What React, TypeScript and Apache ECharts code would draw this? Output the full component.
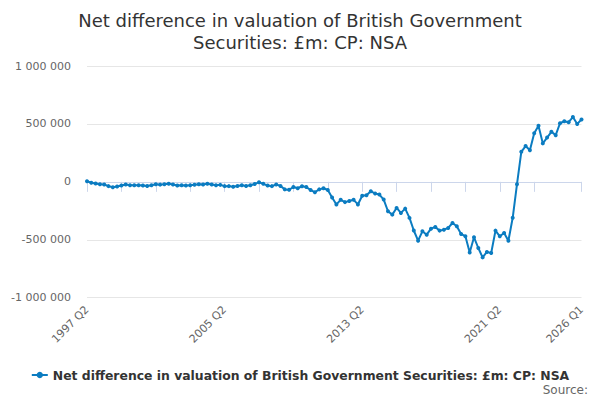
import React, { useEffect, useRef } from "react";
import * as echarts from "echarts";

const startYear = 1997;
const startQuarter = 2;
const values: number[] = [
  5000, -8000, -14000, -20000, -23000, -37000, -46000, -40000, -32000, -23000,
  -29000, -29000, -29000, -32000, -35000, -29000, -20000, -24000, -20000, -17000,
  -23000, -32000, -30000, -32000, -30000, -25000, -21000, -22000, -17000, -23000,
  -29000, -26000, -37000, -37000, -43000, -35000, -29000, -35000, -29000, -18000,
  -4000, -17000, -32000, -37000, -23000, -35000, -65000, -68000, -45000, -55000,
  -38000, -45000, -70000, -90000, -65000, -55000, -70000, -135000, -195000, -155000,
  -175000, -165000, -155000, -195000, -120000, -116000, -81000, -101000, -110000, -153000,
  -254000, -283000, -225000, -268000, -231000, -311000, -420000, -508000, -427000, -456000,
  -404000, -390000, -421000, -413000, -398000, -355000, -384000, -450000, -470000, -609000,
  -479000, -571000, -652000, -605000, -614000, -421000, -470000, -441000, -508000, -310000,
  -20000, 259000, 309000, 273000, 420000, 485000, 332000, 382000, 432000, 403000,
  506000, 523000, 515000, 559000, 500000, 538000,
];

const categories: string[] = values.map((_, i) => {
  const q0 = startQuarter - 1 + i;
  return `${startYear + Math.floor(q0 / 4)} Q${(q0 % 4) + 1}`;
});

const yTicks = [-1000000, -500000, 0, 500000, 1000000];
const seriesName = "Net difference in valuation of British Government Securities: £m: CP: NSA";
const titleText = "Net difference in valuation of British Government\nSecurities: £m: CP: NSA";
const sourceText = "Source:";

const FONT = "DejaVu Sans";

function fmt(v: number): string {
  const s = Math.abs(v).toString().replace(/\B(?=(\d{3})+(?!\d))/g, " ");
  return (v < 0 ? "-" : "") + s;
}

export default function App() {
  const ref = useRef<HTMLDivElement>(null);
  useEffect(() => {
    if (!ref.current) return;
    const chart = echarts.init(ref.current, undefined, { renderer: "svg" });
    const last = categories.length - 1;
    chart.setOption({
      animation: false,
      backgroundColor: "#ffffff",
      title: {
        text: titleText,
        left: "center",
        top: 4,
        textStyle: {
          fontFamily: FONT,
          fontSize: 18,
          fontWeight: "normal",
          color: "#333333",
          lineHeight: 22,
        },
      },
      legend: {
        top: 364,
        left: "center",
        itemWidth: 16,
        itemHeight: 8,
        itemGap: 10,
        textStyle: {
          fontFamily: FONT,
          fontSize: 12.4,
          fontWeight: "bold",
          color: "#333333",
        },
        data: [seriesName],
      },
      graphic: [
        {
          type: "text",
          right: 12,
          top: 384,
          style: {
            text: sourceText,
            fontFamily: FONT,
            fontSize: 12,
            fill: "#666666",
          },
        },
      ],
      grid: {
        left: 87,
        right: 18.5,
        top: 66,
        bottom: 102.3,
        containLabel: false,
      },
      xAxis: {
        type: "category",
        data: categories,
        boundaryGap: false,
        axisLine: { show: true, lineStyle: { color: "#ccd6eb", width: 1 } },
        axisTick: {
          show: true,
          length: 10,
          lineStyle: { color: "#ccd6eb" },
          interval: (i: number) => (i % 8 === 0 && i !== 112) || i === last,
        },
        axisLabel: {
          rotate: 45,
          margin: 10,
          interval: (i: number) => i % 32 === 0 || i === last,
          color: "#666666",
          fontFamily: FONT,
          fontSize: 11,
        },
        splitLine: { show: false },
      },
      yAxis: {
        type: "value",
        min: yTicks[0],
        max: yTicks[yTicks.length - 1],
        interval: 500000,
        axisLine: { show: false },
        axisTick: { show: false },
        axisLabel: {
          margin: 16,
          color: "#666666",
          fontFamily: FONT,
          fontSize: 11,
          formatter: (v: number) => fmt(v),
        },
        splitLine: { lineStyle: { color: "#e6e6e6", width: 1 } },
      },
      series: [
        {
          name: seriesName,
          type: "line",
          data: values,
          symbol: "circle",
          symbolSize: 4,
          showSymbol: true,
          showAllSymbol: true,
          color: "#0b7cc1",
          lineStyle: { width: 2, color: "#0b7cc1" },
          itemStyle: { color: "#0b7cc1" },
        },
      ],
    });
    return () => chart.dispose();
  }, []);
  return (
    <div
      ref={ref}
      style={{ position: "fixed", left: 0, top: 0, width: 600, height: 400 }}
    />
  );
}
